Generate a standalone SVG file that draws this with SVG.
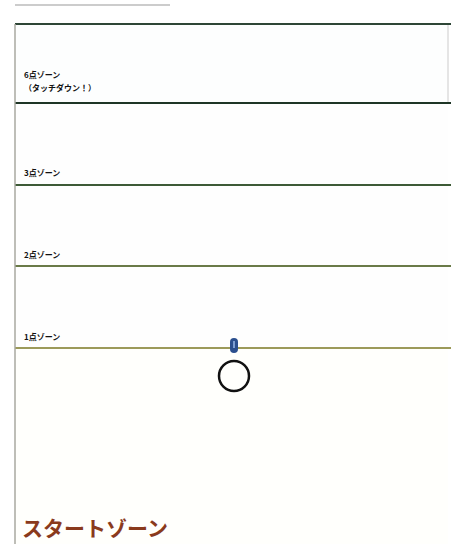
<svg xmlns="http://www.w3.org/2000/svg" width="451" height="544" viewBox="0 0 451 544">
<style>
.lbl{font-family:"Noto Sans CJK JP","Noto Sans",sans-serif;font-size:8px;font-weight:bold;fill:#111}
.zl{stroke-width:2;fill:none}
</style>
<rect width="451" height="544" fill="#fff"/>
<line x1="15" y1="5" x2="170" y2="5" stroke="#999" stroke-width="1"/>
<g id="zone6">
<rect x="15" y="24" width="433" height="79" fill="#fdfefe"/>
<line x1="448" y1="24" x2="448" y2="103" stroke="#ccc" stroke-width="1"/>
<text class="lbl" x="24" y="78">6点ゾーン</text>
<text class="lbl" x="24" y="91">（タッチダウン！）</text>
</g>
<g id="zone3">
<rect x="15" y="103" width="433" height="82" fill="#fefefe"/>
<text class="lbl" x="24" y="176">3点ゾーン</text>
</g>
<g id="zone2">
<rect x="15" y="185" width="433" height="81" fill="#fefefe"/>
<text class="lbl" x="24" y="258">2点ゾーン</text>
</g>
<g id="zone1">
<rect x="15" y="266" width="433" height="82" fill="#fefefe"/>
<text class="lbl" x="24" y="340">1点ゾーン</text>
</g>
<g id="start">
<rect x="15" y="348" width="433" height="196" fill="#fffffc"/>
<text x="22" y="536" font-family="Noto Sans CJK JP,Noto Sans,sans-serif" font-size="21" font-weight="bold" fill="#8a3a1c">スタートゾーン</text>
</g>
<g id="connectors">
<line x1="15" y1="24" x2="451" y2="24" stroke="#2e4636" class="zl"/>
<line x1="15" y1="103" x2="451" y2="103" stroke="#1e3526" class="zl"/>
<line x1="15" y1="185" x2="451" y2="185" stroke="#3d5a36" class="zl"/>
<line x1="15" y1="266" x2="451" y2="266" stroke="#6a7a48" class="zl"/>
<line x1="15" y1="348" x2="451" y2="348" stroke="#9c9a5a" class="zl"/>
<line x1="15" y1="24" x2="15" y2="544" stroke="#a8a8a0" stroke-width="1.5"/>
</g>
<g id="marker">
<rect x="230" y="338" width="8" height="15" rx="4" fill="#2b4f8e"/>
<line x1="234" y1="341" x2="234" y2="348" stroke="#9ab8e8" stroke-width="1.5"/>
</g>
<g id="ball">
<circle cx="234" cy="376" r="15" fill="none" stroke="#111" stroke-width="2.5"/>
</g>
</svg>
